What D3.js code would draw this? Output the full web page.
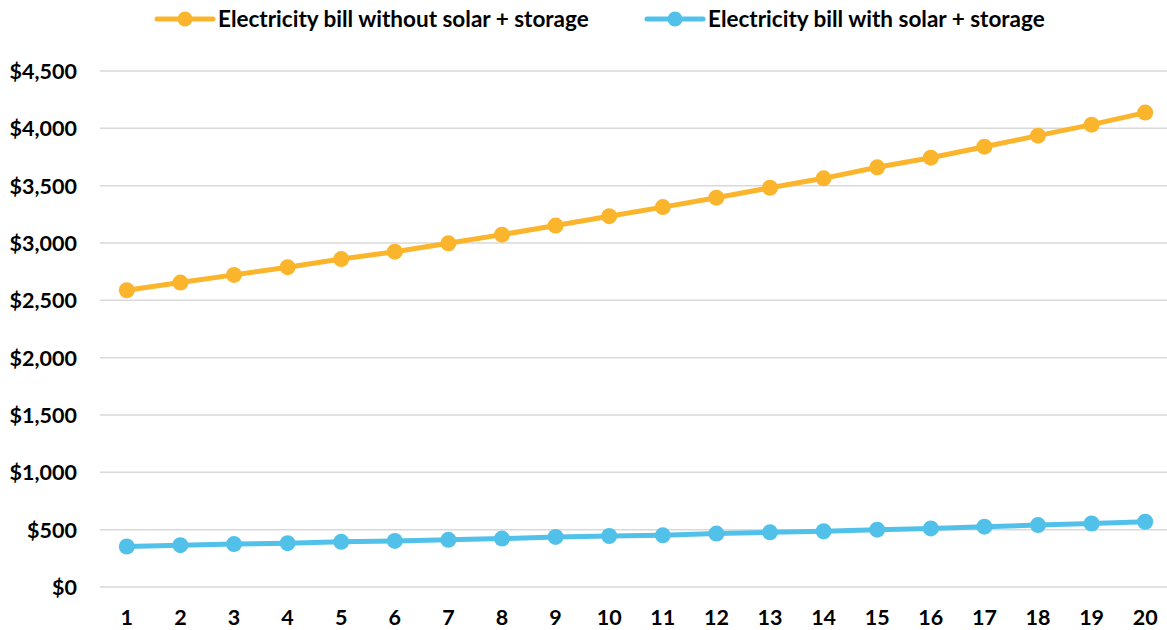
<!DOCTYPE html>
<html>
<head>
<meta charset="utf-8">
<script src="https://cdn.jsdelivr.net/npm/d3@7"></script>
<style>
  html, body { margin: 0; padding: 0; background: #ffffff; }
  svg { display: block; font-family: Lato, "Open Sans", sans-serif; font-weight: 700; }
</style>
</head>
<body>
<svg id="chart" width="1167" height="630"></svg>
<script>
// Year index along the horizontal axis
const years = d3.range(1, 21);

// Annual electricity bill, dollars
const billWithoutSolar = [2588, 2655, 2722, 2789, 2860, 2924, 2997, 3073, 3152, 3234,
                          3313, 3395, 3482, 3564, 3660, 3744, 3840, 3936, 4032, 4137];
const billWithSolar    = [353, 365, 374, 382, 394, 402, 411, 422, 437, 445,
                          451, 466, 477, 486, 500, 511, 526, 540, 554, 569];

const yTicks = [0, 500, 1000, 1500, 2000, 2500, 3000, 3500, 4000, 4500];

const seriesNames = ["Electricity bill without solar + storage",
                     "Electricity bill with solar + storage"];
const seriesColors = ["#FBB52C", "#52C1EA"];

const series = [
  { name: seriesNames[0], color: seriesColors[0], values: billWithoutSolar },
  { name: seriesNames[1], color: seriesColors[1], values: billWithSolar }
];

const svg = d3.select("#chart");
const plot = { left: 100, right: 1172, top: 71, bottom: 587 };

const x = d3.scaleBand().domain(years).range([plot.left, plot.right]);
const y = d3.scaleLinear().domain([0, 4500]).range([plot.bottom, plot.top]);
const cx = d => x(d) + x.bandwidth() / 2;

// Horizontal gridlines
svg.append("g")
  .selectAll("line")
  .data(yTicks)
  .join("line")
  .attr("x1", plot.left).attr("x2", plot.right)
  .attr("y1", d => y(d)).attr("y2", d => y(d))
  .attr("stroke", "#D9D9D9").attr("stroke-width", 1.5);

// Value axis labels
const fmt = d3.format("$,");
const yAxis = svg.append("g")
  .attr("transform", `translate(${plot.left - 23},0)`)
  .call(d3.axisLeft(y).tickValues(yTicks).tickFormat(fmt).tickSize(0).tickPadding(0));
yAxis.select(".domain").remove();
yAxis.selectAll("text")
  .attr("fill", "#000").style("font-size", "21.5px").style("font-family", "Lato, sans-serif").style("font-weight", 700)
  .attr("dy", "0.35em");

// Category axis labels
const xAxis = svg.append("g")
  .attr("transform", `translate(0,${plot.bottom + 23})`)
  .call(d3.axisBottom(x).tickSize(0).tickPadding(0));
xAxis.select(".domain").remove();
xAxis.selectAll("text")
  .attr("fill", "#000").style("font-size", "21.5px").style("font-family", "Lato, sans-serif").style("font-weight", 700)
  .attr("dy", "0.71em");

// Lines with circular markers
const line = d3.line().x((d, i) => cx(years[i])).y(d => y(d));
series.forEach(s => {
  const g = svg.append("g");
  g.append("path")
    .datum(s.values)
    .attr("d", line)
    .attr("fill", "none")
    .attr("stroke", s.color)
    .attr("stroke-width", 5)
    .attr("stroke-linejoin", "round");
  g.selectAll("circle")
    .data(s.values)
    .join("circle")
    .attr("cx", (d, i) => cx(years[i]))
    .attr("cy", d => y(d))
    .attr("r", 8)
    .attr("fill", s.color);
});

// Legend
const legendX = [157, 647];
const legend = svg.append("g");
series.forEach((s, i) => {
  const g = legend.append("g").attr("transform", `translate(${legendX[i]},19)`);
  g.append("line").attr("x1", 0).attr("x2", 56).attr("y1", 0).attr("y2", 0)
    .attr("stroke", s.color).attr("stroke-width", 5).attr("stroke-linecap", "round");
  g.append("circle").attr("cx", 28).attr("cy", 0).attr("r", 7.5).attr("fill", s.color);
  g.append("text").attr("x", 61).attr("y", 0).attr("dy", "0.35em")
    .style("font-size", "22.5px").attr("fill", "#000").text(s.name);
});
</script>
</body>
</html>
